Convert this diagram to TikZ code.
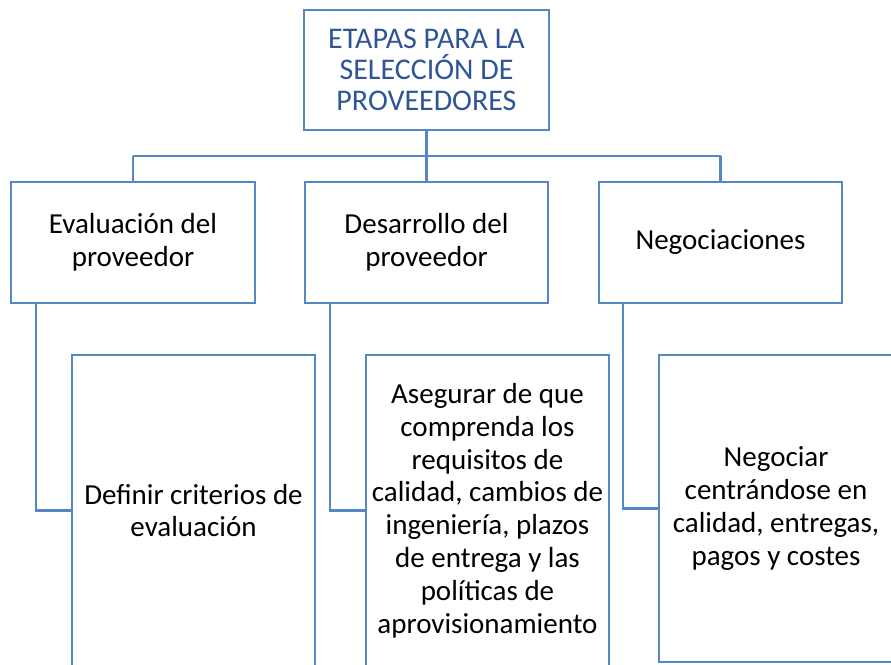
\documentclass[tikz,border=0pt]{standalone}
\usepackage{fontspec}
\setmainfont{Carlito}
\definecolor{lineblue}{RGB}{84,135,196}
\definecolor{titleblue}{RGB}{47,85,151}
\begin{document}
\begin{tikzpicture}[x=1pt,y=-1pt,
  box/.style={draw=lineblue,line width=2.2pt,inner sep=0pt,align=center,
    font=\fontsize{29}{32.8}\selectfont,text=black},
  conn/.style={draw=lineblue,line width=2.2pt}]
\useasboundingbox (0,0) rectangle (891,664);
\clip (0,0) rectangle (891,664);
% top
\node[box,text=titleblue,font=\fontsize{30}{31}\selectfont,minimum width=245pt,minimum height=120pt] (top) at (426.5,70)
  {ETAPAS PARA LA\\SELECCIÓN DE\\PROVEEDORES};
% level 2
\node[box,minimum width=244pt,minimum height=121pt] (eval) at (133,242.5)
  {Evaluación del\\proveedor};
\node[box,minimum width=243pt,minimum height=121pt] (des) at (426.5,242.5)
  {Desarrollo del\\proveedor};
\node[box,minimum width=243pt,minimum height=121pt] (neg) at (720.5,242.5)
  {Negociaciones};
% level 3
\node[box,minimum width=243pt,minimum height=311pt] (c1) at (193.5,510.5)
  {Definir criterios de\\evaluación};
\node[box,minimum width=243pt,minimum height=311pt] (c2) at (487.5,510.5)
  {Asegurar de que\\comprenda los\\requisitos de\\calidad, cambios de\\ingeniería, plazos\\de entrega y las\\políticas de\\aprovisionamiento};
\node[box,minimum width=234pt,minimum height=307pt] (c3) at (776,508.5)
  {Negociar\\centrándose en\\calidad, entregas,\\pagos y costes};
% bus
\coordinate (busL) at (133,156);
\coordinate (busR) at (720.5,156);
\draw[conn] (top.south) -- (des.north);
\draw[conn] (busL) -- (busR);
\draw[conn] (busL) -- (eval.north);
\draw[conn] (busR) -- (neg.north);
% children
\draw[conn] (eval.south -| 36,0) |- (c1.west);
\draw[conn] (des.south -| 330,0) |- (c2.west);
\draw[conn] (neg.south -| 623,0) |- (c3.west);
\end{tikzpicture}
\end{document}
